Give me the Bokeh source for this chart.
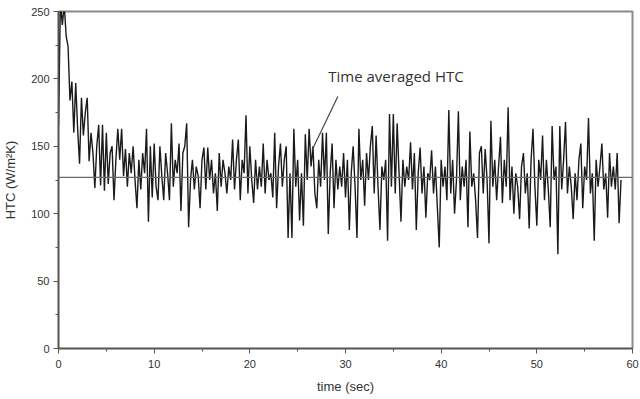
import numpy as np
from bokeh.plotting import figure
from bokeh.models import Span, Label, SingleIntervalTicker, Range1d
from bokeh.embed import file_html
from bokeh.resources import INLINE

# HTC samples every 0.2 s (W/m^2K)
htc = [
    165, 258, 240, 255, 232,
    224, 184, 198, 160, 197,
    163, 137, 186, 158, 175,
    186, 139, 160, 145, 119,
    150, 166, 121, 166, 117,
    160, 122, 145, 150, 110,
    140, 163, 140, 163, 128,
    148, 120, 145, 130, 150,
    125, 104, 140, 118, 145,
    130, 163, 94, 150, 112,
    152, 120, 110, 150, 128,
    110, 145, 130, 110, 167,
    120, 140, 130, 152, 102,
    145, 150, 167, 90, 125,
    140, 118, 135, 128, 104,
    140, 149, 118, 149, 125,
    140, 115, 130, 102, 145,
    120, 140, 130, 115, 135,
    125, 155, 118, 140, 155,
    110, 140, 130, 173, 115,
    150, 125, 108, 140, 118,
    135, 120, 152, 115, 140,
    125, 130, 112, 160, 104,
    135, 152, 120, 140, 150,
    82, 130, 82, 163, 120,
    140, 95, 130, 91, 159,
    125, 163, 135, 150, 115,
    104, 140, 120, 160, 125,
    160, 85, 130, 152, 104,
    140, 118, 135, 120, 145,
    112, 140, 88, 130, 150,
    120, 82, 163, 125, 140,
    106, 145, 125, 150, 165,
    115, 158, 120, 88, 135,
    125, 140, 80, 174, 120,
    174, 115, 167, 130, 94,
    140, 120, 135, 125, 153,
    118, 145, 88, 130, 149,
    115, 135, 97, 130, 125,
    147, 115, 135, 105, 75,
    140, 120, 135, 110, 177,
    115, 140, 100, 125, 176,
    110, 135, 120, 140, 90,
    161, 120, 130, 110, 82,
    145, 150, 115, 148, 125,
    78, 169, 120, 140, 110,
    135, 157, 108, 140, 120,
    179, 110, 135, 100, 130,
    120, 96, 135, 145, 115,
    130, 89, 140, 163, 120,
    91, 140, 125, 158, 110,
    140, 118, 90, 165, 125,
    135, 70, 165, 118, 140,
    168, 115, 135, 120, 96,
    130, 110, 140, 152, 104,
    135, 125, 171, 115, 130,
    80, 140, 120, 135, 152,
    118, 130, 97, 145, 120,
    135, 118, 145, 93, 125,
]
time = [round(i * 0.2, 1) for i in range(len(htc))]
avg_htc = 127
arrow_x = [29.2, 26.5]
arrow_y = [187, 147]
label_text = "Time averaged HTC"
label_pos = (28.2, 202)

p = figure(width=640, height=399, output_backend="svg", toolbar_location=None,
           x_range=Range1d(0, 60), y_range=Range1d(0, 250),
           min_border_left=58, min_border_right=8, min_border_top=11, min_border_bottom=51)
p.background_fill_color = "white"
p.border_fill_color = "white"
p.outline_line_color = "#8a8a8a"
p.outline_line_width = 2
p.xgrid.visible = False
p.ygrid.visible = False

p.line(time, htc, line_color="#1a1a1a", line_width=1.4)
p.add_layout(Span(location=avg_htc, dimension="width", line_color="#6a6a6a", line_width=1.2))
p.segment(x0=[arrow_x[0]], y0=[arrow_y[0]], x1=[arrow_x[1]], y1=[arrow_y[1]],
          line_color="#444444", line_width=1.2)
p.add_layout(Label(x=label_pos[0], y=label_pos[1], text=label_text,
                   text_font="Open Sans", text_font_size="15px", text_color="#333333",
                   text_baseline="alphabetic"))

p.xaxis.ticker = SingleIntervalTicker(interval=10, num_minor_ticks=2)
p.yaxis.ticker = SingleIntervalTicker(interval=50, num_minor_ticks=2)
for ax in (p.xaxis[0], p.yaxis[0]):
    ax.axis_line_color = "#555555"
    ax.axis_line_width = 1.5
    ax.major_tick_line_color = "#555555"
    ax.minor_tick_line_color = "#555555"
    ax.major_tick_out = 5
    ax.major_tick_in = 0
    ax.minor_tick_out = 3
    ax.minor_tick_in = 0
    ax.major_label_text_font = "Liberation Sans"
    ax.major_label_text_font_size = "11px"
    ax.major_label_text_color = "#333333"
    ax.axis_label_text_font = "Liberation Sans"
    ax.axis_label_text_font_size = "13px"
    ax.axis_label_text_font_style = "normal"
    ax.axis_label_text_color = "#333333"
p.xaxis.axis_label = "time (sec)"
p.yaxis.axis_label = "HTC (W/m\u00b2K)"
p.xaxis.major_label_standoff = 6
p.xaxis.axis_label_standoff = 8
p.yaxis.major_label_standoff = 4
p.yaxis.axis_label_standoff = 10

open("out.html", "w").write(file_html(p, INLINE))
